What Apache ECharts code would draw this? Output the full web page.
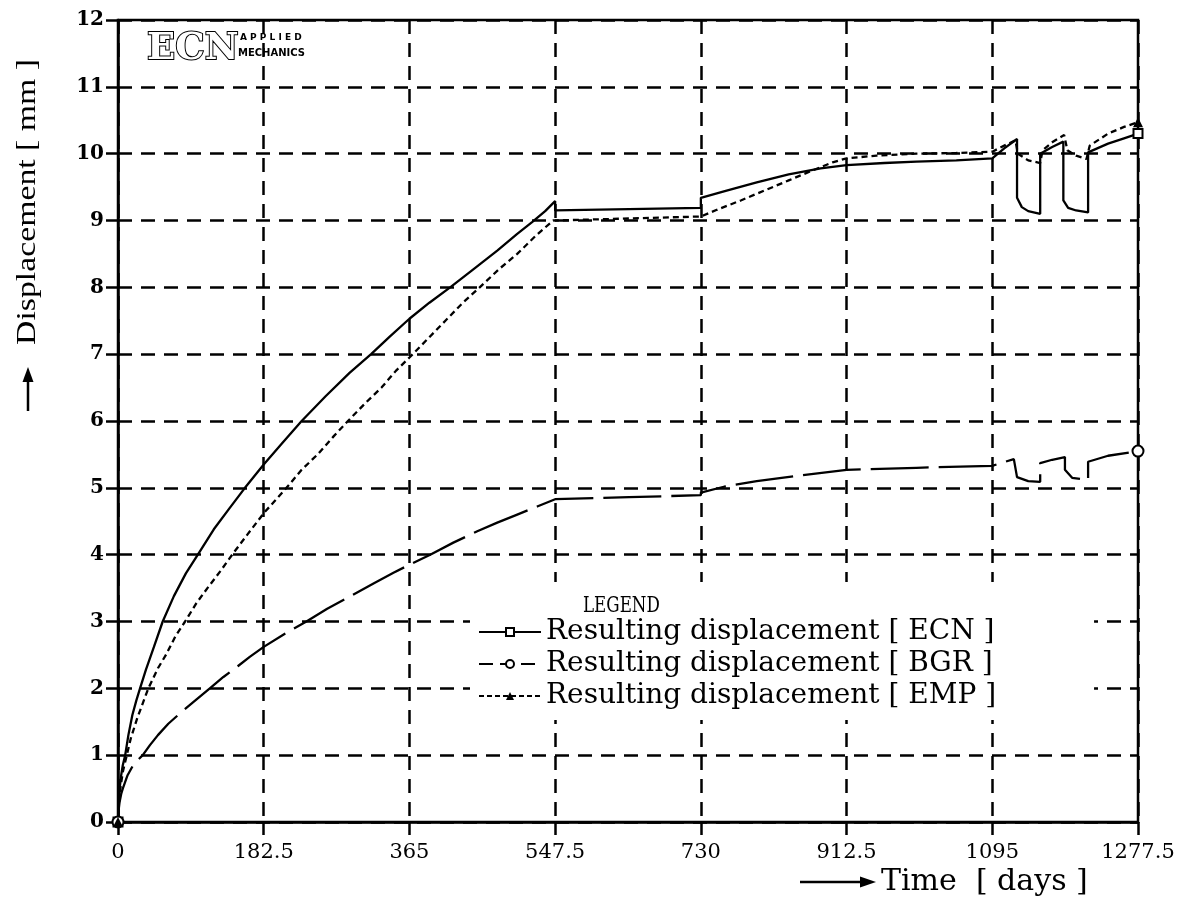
<!DOCTYPE html>
<html>
<head>
<meta charset="utf-8">
<script src="https://cdn.jsdelivr.net/npm/echarts@6/dist/echarts.min.js"></script>
<style>html,body{margin:0;padding:0;background:#fff}#c{width:1193px;height:918px}</style>
</head>
<body>
<div id="c"></div>
<script>
// ---- data (days, mm) ----
const xTicks = [0, 182.5, 365, 547.5, 730, 912.5, 1095, 1277.5];
const xTickLabels = ['0', '182.5', '365', '547.5', '730', '912.5', '1095', '1277.5'];
const yTickLabels = ['0','1','2','3','4','5','6','7','8','9','10','11','12'];
const seriesNames = ['Resulting displacement [ ECN ]', 'Resulting displacement [ BGR ]', 'Resulting displacement [ EMP ]'];

const ecn = [[0,0],[1,0.3],[2,0.5],[4,0.7],[6,0.85],[9,1.0],[13,1.3],[18,1.6],[23,1.82],[27.6,2.0],[35,2.28],[45,2.62],[56,3.0],[70,3.38],[85,3.72],[100,4.0],[120,4.38],[140,4.7],[159,5.0],[182.5,5.35],[205,5.66],[230,6.0],[260,6.37],[290,6.72],[317,7.0],[340,7.26],[365,7.53],[390,7.77],[416,8.0],[445,8.27],[475,8.55],[500,8.8],[519,8.98],[535,9.14],[547.5,9.29],
  [547.5,9.15],[640,9.17],[730,9.19],[730,9.34],[760,9.44],[800,9.57],[840,9.69],[880,9.78],[912.5,9.83],[960,9.86],[1000,9.88],[1050,9.9],[1095,9.93],
  [1110,10.08],[1126,10.22],[1126,9.34],[1132,9.2],[1140,9.14],[1155,9.1],[1155,10.0],[1170,10.1],[1184,10.18],[1184,9.3],[1190,9.19],[1200,9.15],[1215,9.12],[1215,10.02],[1240,10.15],[1260,10.23],[1277.5,10.3]];

const bgr = [[0,0],[1,0.2],[2,0.3],[4,0.42],[6,0.5],[9,0.6],[12,0.7],[19,0.85],[25,0.93],[31,1.0],[40,1.15],[50,1.3],[63,1.47],[78,1.63],[95,1.8],[115,2.0],[132,2.17],[150,2.33],[165,2.47],[182.5,2.62],[208,2.81],[236,3.0],[262,3.19],[290,3.37],[320,3.57],[345,3.73],[365,3.85],[391,4.0],[420,4.18],[450,4.35],[475,4.48],[500,4.6],[525,4.72],[547.5,4.83],
  [640,4.86],[730,4.89],[730,4.93],[760,5.02],[800,5.1],[850,5.18],[912.5,5.27],[1000,5.3],[1095,5.33],[1122,5.43],[1126,5.16],[1140,5.1],[1155,5.09],[1155,5.37],[1170,5.42],[1186,5.46],[1186,5.27],[1195,5.15],[1215,5.12],[1215,5.39],[1240,5.48],[1277.5,5.55]];

const emp = [[0,0],[1,0.25],[3,0.5],[6,0.75],[11,1.0],[16,1.25],[24,1.55],[38,2.0],[50,2.3],[60,2.5],[72,2.78],[84,3.0],[98,3.27],[112,3.5],[128,3.75],[143,4.0],[162,4.3],[182.5,4.62],[196,4.8],[211,5.0],[230,5.27],[250,5.5],[270,5.77],[288,6.0],[310,6.27],[330,6.5],[348,6.75],[365,6.95],[388,7.23],[410,7.5],[432,7.77],[453,8.0],[477,8.27],[500,8.5],[523,8.77],[545,9.0],[547.5,9.02],
  [640,9.03],[730,9.06],[750,9.16],[780,9.3],[810,9.45],[840,9.6],[870,9.75],[895,9.87],[912.5,9.93],[950,9.97],[1000,10.0],[1050,10.01],[1095,10.03],[1110,10.12],[1124,10.2],[1127,10.0],[1140,9.9],[1155,9.86],[1158,10.05],[1170,10.17],[1185,10.28],[1189,10.05],[1200,9.97],[1213,9.92],[1217,10.12],[1240,10.3],[1260,10.4],[1277.5,10.47]];

const FONT = 'DejaVu Serif';
function endSize(n, s) {
  return function (v, p) { return (p.dataIndex === 0 || p.dataIndex === n - 1) ? s : 0; };
}

const chart = echarts.init(document.getElementById('c'), null, {renderer: 'canvas'});
chart.setOption({
  animation: false,
  backgroundColor: '#fff',
  grid: {left: 118, right: 55, top: 20, bottom: 96, show: true, borderColor: '#000', borderWidth: 2.5, backgroundColor: 'transparent'},
  legend: {
    data: [
      {name: seriesNames[0]},
      {name: seriesNames[1], lineStyle: {type: [14, 7]}},
      {name: seriesNames[2], lineStyle: {type: [5, 3]}}
    ],
    orient: 'vertical', left: 470, top: 582,
    backgroundColor: '#fff', padding: [36, 98, 10, 8],
    itemWidth: 62, itemHeight: 10, itemGap: 4,
    textStyle: {fontFamily: FONT, fontSize: 28, color: '#000'}
  },
  xAxis: {
    type: 'value', min: 0, max: 1277.5, interval: 182.5,
    axisLine: {show: true, lineStyle: {color: '#000', width: 2.5}},
    axisTick: {show: true, length: 13, lineStyle: {color: '#000', width: 2.5}},
    axisLabel: {margin: 20, color: '#000', fontFamily: FONT, fontSize: 21,
      formatter: function (v) { const i = xTicks.indexOf(v); return i >= 0 ? xTickLabels[i] : ''; }},
    splitLine: {show: true, lineStyle: {color: '#000', width: 2.5, type: [14, 9]}}
  },
  yAxis: {
    type: 'value', min: 0, max: 12, interval: 1,
    axisLine: {show: true, lineStyle: {color: '#000', width: 2.5}},
    axisTick: {show: true, length: 12, lineStyle: {color: '#000', width: 2.5}},
    axisLabel: {margin: 14, color: '#000', fontFamily: FONT, fontSize: 20, fontWeight: 'bold',
      formatter: function (v) { return yTickLabels[Math.round(v)]; }},
    splitLine: {show: true, lineStyle: {color: '#000', width: 2.5, type: [14, 9]}}
  },
  series: [
    {name: seriesNames[0], type: 'line', data: ecn, symbol: 'emptyRect', symbolSize: endSize(ecn.length, 9), showSymbol: true,
      lineStyle: {color: '#000', width: 2.3, type: 'solid'}, itemStyle: {color: '#000', borderWidth: 2}, z: 3},
    {name: seriesNames[1], type: 'line', data: bgr, symbol: 'emptyCircle', symbolSize: endSize(bgr.length, 11), showSymbol: true,
      lineStyle: {color: '#000', width: 2.3, type: [58, 10]}, itemStyle: {color: '#000', borderWidth: 2.5}, z: 3},
    {name: seriesNames[2], type: 'line', data: emp, symbol: 'triangle', symbolSize: endSize(emp.length, 10), showSymbol: true,
      lineStyle: {color: '#000', width: 2.3, type: [6, 4]}, itemStyle: {color: '#000'}, z: 3}
  ],
  graphic: [
    {type: 'text', left: 146, top: 30, z: 10, style: {text: 'ECN', font: 'bold 37px "DejaVu Serif"', fill: '#fff', stroke: '#000', lineWidth: 2}},
    {type: 'text', left: 240, top: 33, z: 10, style: {text: 'A P P L I E D', font: 'bold 9px "DejaVu Sans"', fill: '#000'}},
    {type: 'text', left: 238, top: 48, z: 10, style: {text: 'MECHANICS', font: 'bold 10px "DejaVu Sans"', fill: '#000'}},
    {type: 'text', x: 583, y: 606, scaleX: 0.76, z: 10,
      style: {text: 'LEGEND', font: '22px "DejaVu Serif"', fill: '#000', verticalAlign: 'middle'}},
    {type: 'text', x: 28, y: 202, rotation: Math.PI / 2, scaleX: 1.25, z: 10,
      style: {text: 'Displacement [ mm ]', font: '27px "Liberation Serif"', fill: '#000', align: 'center', verticalAlign: 'middle'}},
    {type: 'line', z: 10, shape: {x1: 28, y1: 411, x2: 28, y2: 380}, style: {stroke: '#000', lineWidth: 2.5}},
    {type: 'polygon', z: 10, shape: {points: [[28, 367], [22.5, 382], [33.5, 382]]}, style: {fill: '#000'}},
    {type: 'line', z: 10, shape: {x1: 800, y1: 882, x2: 862, y2: 882}, style: {stroke: '#000', lineWidth: 2.5}},
    {type: 'polygon', z: 10, shape: {points: [[876, 882], [860, 876.5], [860, 887.5]]}, style: {fill: '#000'}},
    {type: 'text', x: 881, y: 882, z: 10, style: {text: 'Time  [ days ]', font: '30px "DejaVu Serif"', fill: '#000', verticalAlign: 'middle'}}
  ]
});
</script>
</body>
</html>
